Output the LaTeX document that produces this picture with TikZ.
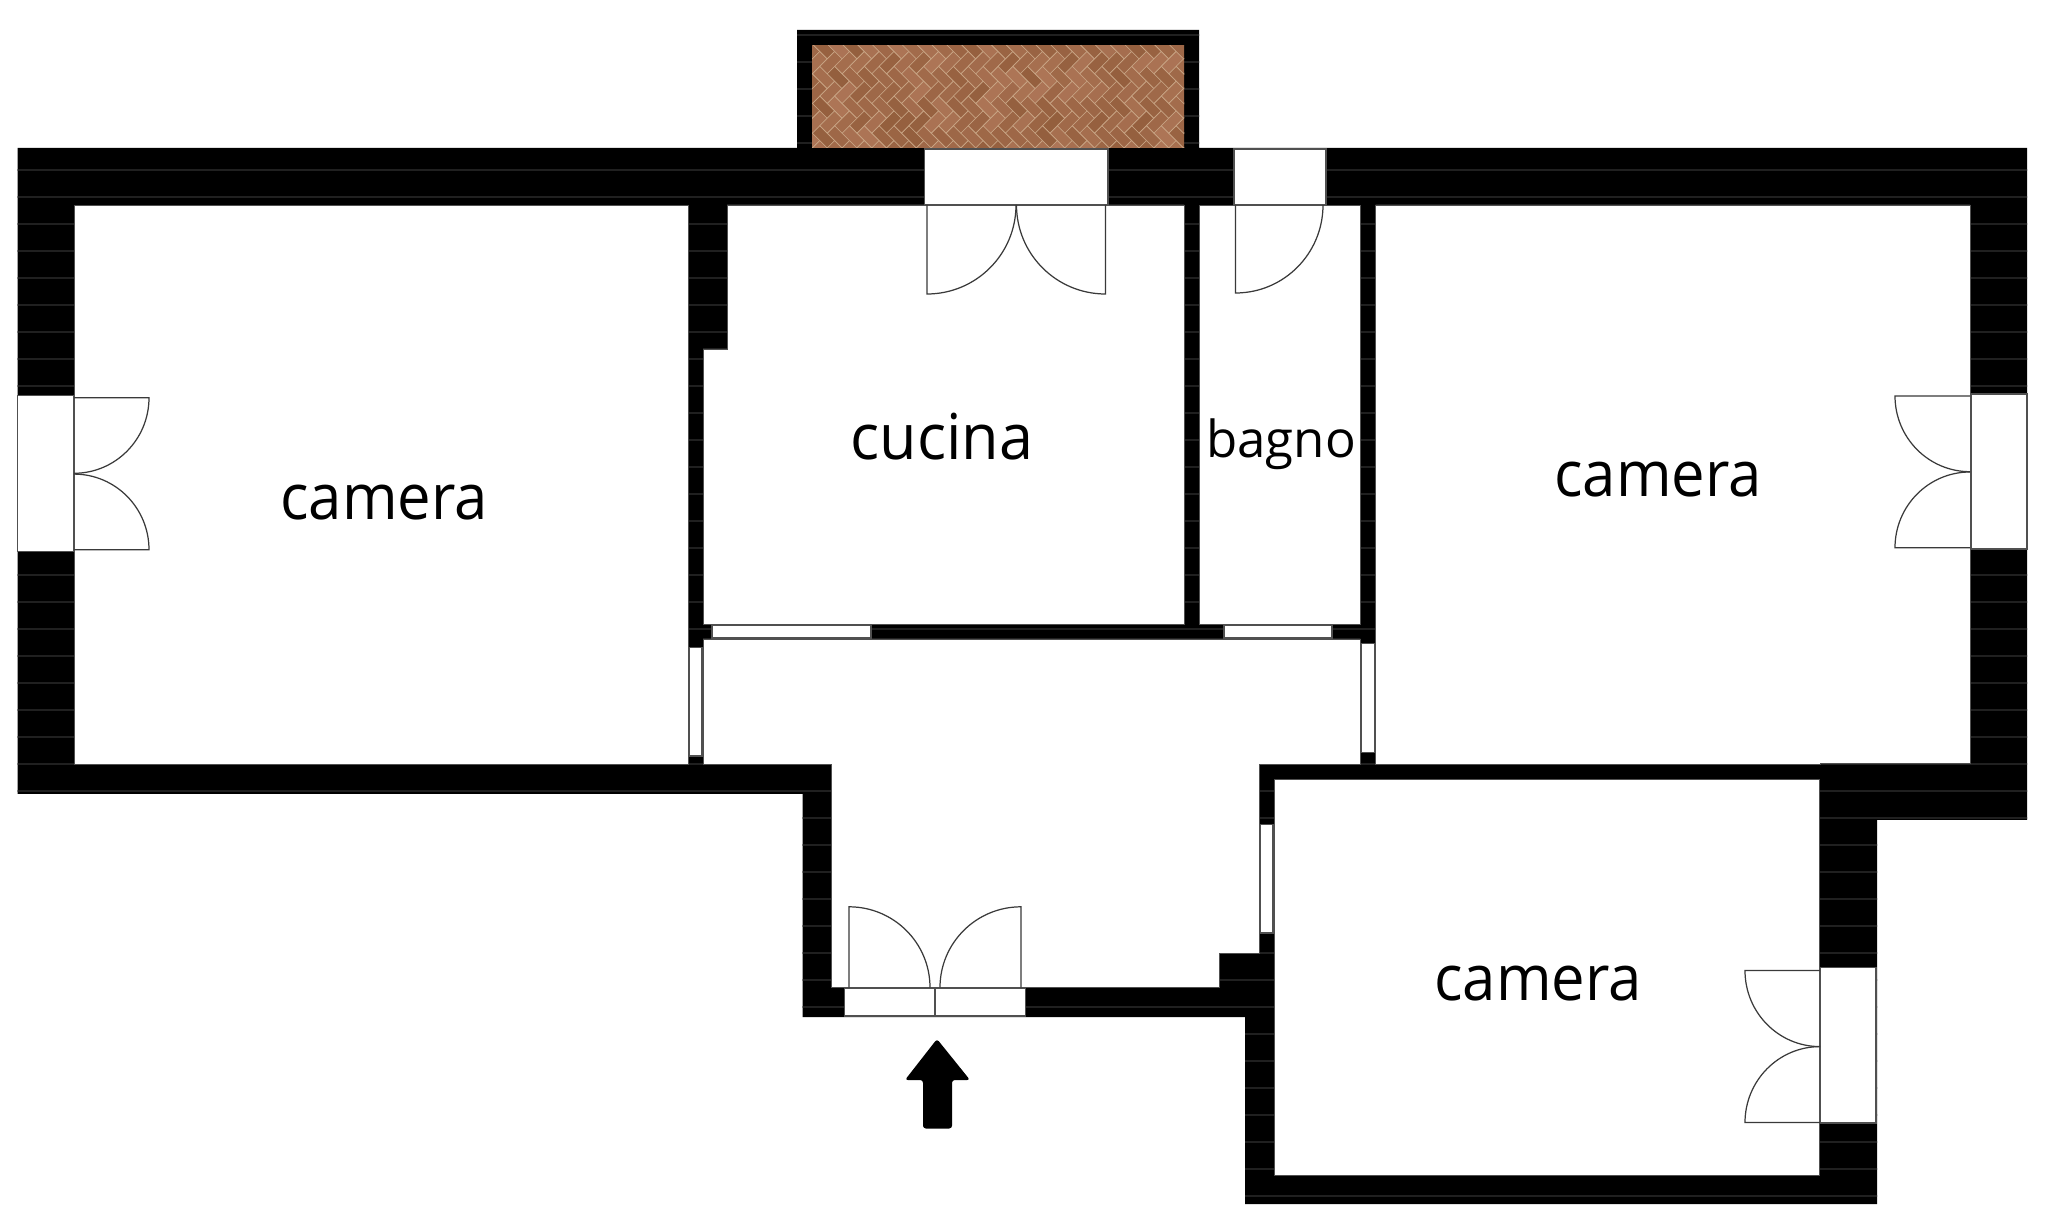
\documentclass[tikz,border=0pt]{standalone}
\usepackage{fontspec}
\setmainfont{Open Sans}
\definecolor{jointc}{HTML}{C9A585}
\definecolor{hatchc}{HTML}{202020}
\definecolor{edgec}{HTML}{505050}
\definecolor{doorc}{HTML}{3A3A3A}
\tikzset{
  x=0.01cm,y=-0.01cm,
  room/.style={fill=white,draw=edgec,line width=0.2pt},
  win/.style={fill=white,draw=edgec,line width=0.4pt},
  door/.style={draw=doorc,line width=0.35pt},
  label/.style={anchor=base,inner sep=0pt,text=black},
  brick/.style={fill=brk,draw=jointc,line width=0.18pt}
}
\newcommand{\leaf}[6]{% hinge x,y; leaf vector; closing vector
  \draw[door] (#1,#2) -- ({#1+#3},{#2+#4})
    .. controls ({#1+#3+.5523*#5},{#2+#4+.5523*#6}) and ({#1+#5+.5523*#3},{#2+#6+.5523*#4}) .. ({#1+#5},{#2+#6});}
\newcommand{\outline}{(17.5,148) -- (797,148) -- (797,30) -- (1199,30) -- (1199,148) -- (2027,148) -- (2027,820) -- (1877,820) -- (1877,1204) -- (1245,1204) -- (1245,1017) -- (802.5,1017) -- (802.5,794) -- (17.5,794) -- cycle}
\begin{document}
\begin{tikzpicture}
\useasboundingbox (0,0) rectangle (2048,1228);
\fill[white] (0,0) rectangle (2048,1228);
% walls
\fill[black] \outline;
\begin{scope}
  \clip \outline;
  \foreach \k in {0,...,43}{
    \draw[hatchc,line width=0.3pt] (0,{35+27*\k}) -- (2048,{35+27*\k});
  }
\end{scope}
% balcony paving
\begin{scope}
  \clip (812,46) rectangle (1184,148);
  \pgfmathsetseed{11}
  \begin{scope}[shift={(998,96)},rotate=45]
    \def\a{10.5}
    \foreach \i in {-22,...,22}{
      \foreach \j in {-11,...,11}{
        \pgfmathsetmacro{\px}{(\i+2*\j)*\a}
        \pgfmathsetmacro{\py}{(\i-2*\j)*\a}
        \pgfmathsetmacro{\ta}{rnd}
        \pgfmathsetmacro{\tb}{rnd}
        \definecolor{brk}{rgb}{\fpeval{0.58+0.10*\ta},\fpeval{0.37+0.09*\ta},\fpeval{0.24+0.10*\ta}}
        \draw[brick] (\px,\py) rectangle ({\px+2*\a},{\py+\a});
        \definecolor{brk}{rgb}{\fpeval{0.58+0.10*\tb},\fpeval{0.37+0.09*\tb},\fpeval{0.24+0.10*\tb}}
        \draw[brick] ({\px+2*\a},{\py-\a}) rectangle ({\px+3*\a},{\py+\a});
      }
    }
  \end{scope}
\end{scope}
% rooms
\draw[room] (74,205) -- (688,205) -- (688,764.6) -- (74,764.6) -- cycle;
\draw[room] (727,205) -- (1184,205) -- (1184,624) -- (703,624) -- (703,349) -- (727,349) -- cycle;
\draw[room] (1199,205) -- (1360,205) -- (1360,624) -- (1199,624) -- cycle;
\draw[room] (1375.5,205) -- (1970,205) -- (1970,763) -- (1820,763) -- (1820,764.6) -- (1375.5,764.6) -- cycle;
\draw[room] (703,639) -- (1360.4,639) -- (1360.4,764.6) -- (1259,764.6) -- (1259,953) -- (1219,953) -- (1219,987.5) -- (831.6,987.5) -- (831.6,764.6) -- (703,764.6) -- cycle;
\draw[room] (1274,779.6) -- (1819.5,779.6) -- (1819.5,1175) -- (1274,1175) -- cycle;
% windows
\draw[win] (924.5,149) rectangle (1108,205);
\draw[win] (1234,149) rectangle (1326,205);
\draw[win] (17.5,395.7) rectangle (74,551.7);
\draw[win] (1971,394) rectangle (2027,549);
\draw[win] (712,625) rectangle (871,638);
\draw[win] (1224,625) rectangle (1332,638);
\draw[win] (689,647.5) rectangle (702,756);
\draw[win] (1361,643.6) rectangle (1374.5,752.5);
\draw[win] (1260,824.6) rectangle (1273,933);
\draw[win] (1820,967.6) rectangle (1876,1123);
\draw[win] (844.7,988) rectangle (934.8,1016);
\draw[win] (934.8,988) rectangle (1025.5,1016);
% doors
\leaf{927}{205}{0}{89}{89}{0}
\leaf{1105.5}{205}{0}{89}{-89}{0}
\leaf{1235.5}{205}{0}{88}{87.5}{0}
\leaf{74}{397.7}{75}{0}{0}{75.6}
\leaf{74}{549.7}{75}{0}{0}{-75.6}
\leaf{1970}{396}{-75}{0}{0}{75.7}
\leaf{1970}{547.7}{-75}{0}{0}{-75.7}
\leaf{849}{987.5}{0}{-80.7}{81}{0}
\leaf{1021}{987.5}{0}{-80.7}{-81}{0}
\leaf{1820}{970.6}{-75}{0}{0}{76}
\leaf{1820}{1122.6}{-75}{0}{0}{-76}
% entrance arrow
\fill[black,rounded corners=0.8pt] (937,1039) -- (970,1080) -- (952,1080) -- (952,1128.5) -- (923,1128.5) -- (923,1080) -- (905,1080) -- cycle;
% labels
\node[label,font=\fontsize{18}{18}\selectfont] (cam1) at (384,520) {\scalebox{.945}[1]{camera}};
\node[label,font=\fontsize{18}{18}\selectfont] (cuc) at (942,460) {\scalebox{.965}[1]{cucina}};
\node[label,font=\fontsize{14.5}{14.5}\selectfont] (bag) at (1281,458) {bagno};
\node[label,font=\fontsize{18}{18}\selectfont] (cam2) at (1658,497) {\scalebox{.945}[1]{camera}};
\node[label,font=\fontsize{18}{18}\selectfont] (cam3) at (1538,1000) {\scalebox{.945}[1]{camera}};
\end{tikzpicture}
\end{document}
